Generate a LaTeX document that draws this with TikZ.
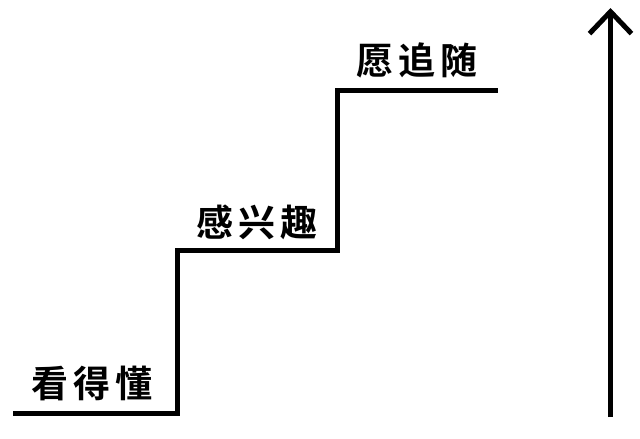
\documentclass[tikz,border=0pt]{standalone}
\usepackage{fontspec}
\newfontfamily\cjk{Noto Sans CJK SC}[BoldFont={* Bold}]
\usetikzlibrary{arrows.meta}
\newcommand{\gapk}{\kern5pt}
\begin{document}
\begin{tikzpicture}[x=1pt,y=-1pt,
  stair/.style={line width=5pt,line join=miter},
  label/.style={font=\cjk\bfseries\fontsize{37}{40}\selectfont,inner sep=0pt},
  uparrow/.style={line width=5pt,-{Straight Barb[length=22pt,width=42pt,line width=5pt]}}]
\useasboundingbox (0,0) rectangle (640,439);
\draw[stair] (13,413) -- (177.5,413) -- (177.5,250.5) -- (337.5,250.5) -- (337.5,90.5) -- (498,90.5);
\node[label] (s1) at (92,383) {看\gapk 得\gapk 懂};
\node[label] (s2) at (257,222) {感\gapk 兴\gapk 趣};
\node[label] (s3) at (417,60) {愿\gapk 追\gapk 随};
\coordinate (abot) at (610.5,417);
\coordinate (atop) at (610.5,8);
\draw[uparrow] (abot) -- (atop);
\end{tikzpicture}
\end{document}
